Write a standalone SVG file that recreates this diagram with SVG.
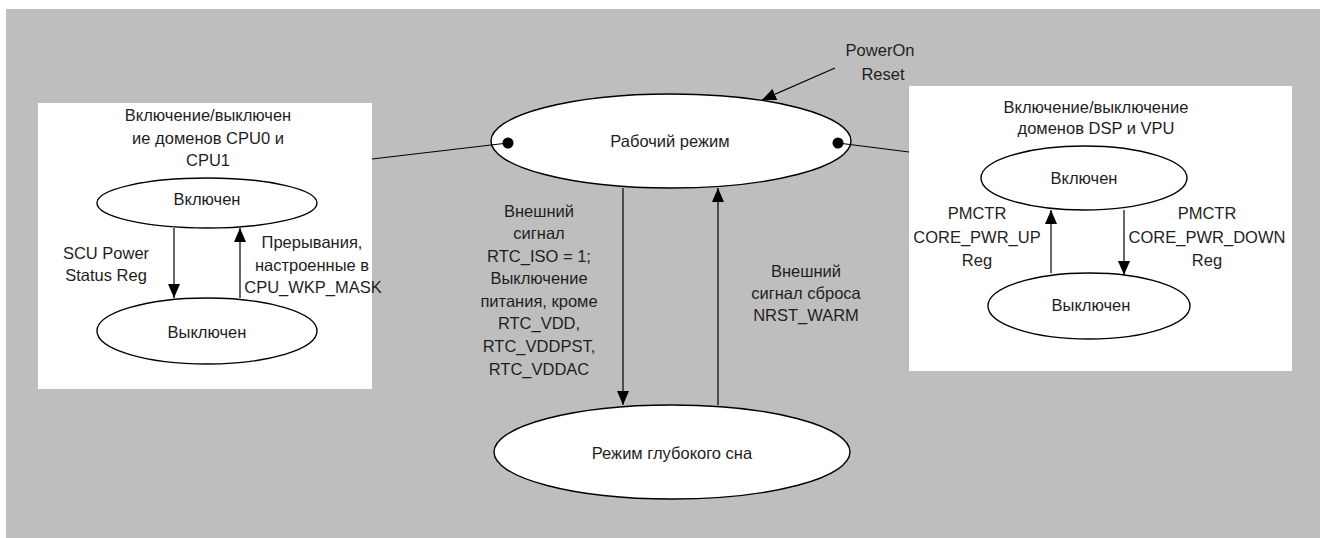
<svg xmlns="http://www.w3.org/2000/svg" width="1320" height="538" viewBox="0 0 1320 538">
<defs>
<marker id="arr" viewBox="0 0 14 12" refX="14" refY="6" markerWidth="14" markerHeight="12" markerUnits="userSpaceOnUse" orient="auto">
<path d="M0,0 L14,6 L0,12 Z" fill="#000"/>
</marker>
</defs>
<style>
text{font-family:"Liberation Sans",Arial,sans-serif;font-size:16.5px;fill:#1e1e1e;text-anchor:middle;dominant-baseline:central}
.st{fill:#fff;stroke:#000;stroke-width:1.4}
.box{fill:#fff;stroke:none}
.ln{stroke:#000;stroke-width:1.2;fill:none}
.ar{stroke:#000;stroke-width:1.2;fill:none;marker-end:url(#arr)}
</style>
<rect x="0" y="0" width="1320" height="538" fill="#fff"/>
<rect x="6" y="9" width="1314" height="529" fill="#bebebe"/>

<g id="cpu-domain">
<rect class="box" x="38" y="103" width="334" height="286"/>
<text x="208" y="115">Включение/выключен</text>
<text x="208" y="138">ие доменов CPU0 и</text>
<text x="208" y="160">CPU1</text>
</g>
<g id="cpu-on">
<ellipse class="st" cx="207" cy="203" rx="110" ry="25"/>
<text x="207" y="199">Включен</text>
</g>
<g id="cpu-off">
<ellipse class="st" cx="207" cy="331" rx="110" ry="33"/>
<text x="207" y="332">Выключен</text>
</g>

<g id="dsp-domain">
<rect class="box" x="909" y="86" width="383" height="285"/>
<text x="1096" y="107">Включение/выключение</text>
<text x="1096" y="128">доменов DSP и VPU</text>
</g>
<g id="dsp-on">
<ellipse class="st" cx="1084" cy="178" rx="103" ry="32"/>
<text x="1084" y="178">Включен</text>
</g>
<g id="dsp-off">
<ellipse class="st" cx="1089" cy="306" rx="101" ry="33"/>
<text x="1091" y="305">Выключен</text>
</g>

<g id="run">
<ellipse class="st" cx="671" cy="141" rx="180" ry="47"/>
<text x="670" y="141">Рабочий режим</text>
</g>
<g id="sleep">
<ellipse class="st" cx="672" cy="452" rx="178" ry="47"/>
<text x="672" y="453">Режим глубокого сна</text>
</g>

<g id="connectors">
<line class="ln" x1="372" y1="159" x2="508" y2="143"/>
<circle cx="508" cy="143" r="5.5" fill="#000"/>
<line class="ln" x1="838" y1="143" x2="909" y2="152"/>
<circle cx="838" cy="143" r="5.5" fill="#000"/>
<line class="ar" x1="835" y1="68" x2="762" y2="100"/>
<line class="ar" x1="623" y1="188" x2="623" y2="405"/>
<line class="ar" x1="718" y1="405" x2="718" y2="188"/>
<line class="ar" x1="174" y1="228" x2="174" y2="298"/>
<line class="ar" x1="240" y1="298" x2="240" y2="228"/>
<line class="ar" x1="1051" y1="273" x2="1051" y2="210"/>
<line class="ar" x1="1124" y1="210" x2="1124" y2="275"/>
</g>

<g id="labels">
<text x="880" y="50">PowerOn</text>
<text x="883" y="74">Reset</text>
<text x="106" y="253">SCU Power</text>
<text x="106" y="275">Status Reg</text>
<text x="312" y="242">Прерывания,</text>
<text x="312" y="265">настроенные в</text>
<text x="313" y="287">CPU_WKP_MASK</text>
<text x="539" y="211">Внешний</text>
<text x="539" y="233">сигнал</text>
<text x="539" y="256">RTC_ISO = 1;</text>
<text x="539" y="278">Выключение</text>
<text x="539" y="301">питания, кроме</text>
<text x="539" y="323">RTC_VDD,</text>
<text x="539" y="346">RTC_VDDPST,</text>
<text x="539" y="369">RTC_VDDAC</text>
<text x="806" y="271">Внешний</text>
<text x="806" y="293">сигнал сброса</text>
<text x="806" y="315">NRST_WARM</text>
<text x="977" y="213">PMCTR</text>
<text x="977" y="237">CORE_PWR_UP</text>
<text x="977" y="260">Reg</text>
<text x="1207" y="213">PMCTR</text>
<text x="1207" y="237">CORE_PWR_DOWN</text>
<text x="1207" y="260">Reg</text>
</g>
</svg>
